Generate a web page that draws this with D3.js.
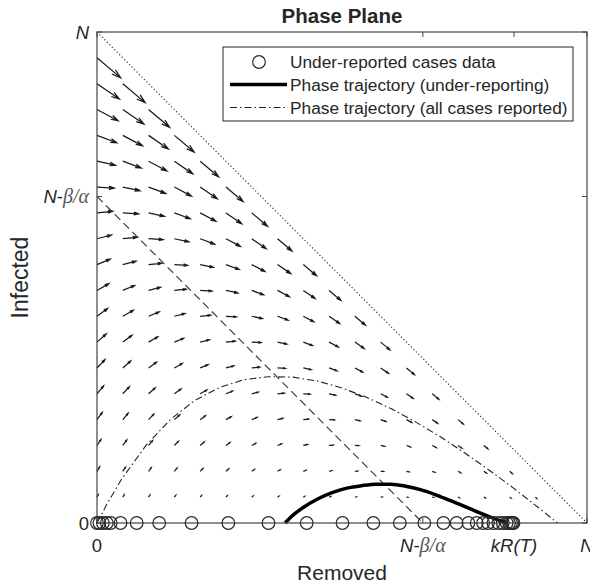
<!DOCTYPE html>
<html>
<head>
<meta charset="utf-8">
<script src="https://cdn.jsdelivr.net/npm/d3@7"></script>
<style>
body { margin: 0; background: #fff; }
text { font-family: "Liberation Sans", Arial, sans-serif; fill: #262626; }
</style>
</head>
<body>
<svg id="chart" width="590" height="585"></svg>
<script>
// model constants, N normalised to 1
var N = 1;
var betaOverAlpha = 0.335;
var kRT = 0.851;

// quiver grid: 20 points on each axis, 0..N
var gridSteps = 19;

// under-reported cases data (removed values, all on I = 0)
var casesR = [0, 0.005, 0.012, 0.020, 0.028, 0.048, 0.081, 0.127, 0.193, 0.268,
    0.350, 0.428, 0.501, 0.564, 0.618, 0.668, 0.707, 0.734, 0.758, 0.775,
    0.788, 0.798, 0.809, 0.819, 0.828, 0.836, 0.841, 0.845, 0.848, 0.850];

// phase trajectory (under-reporting)
var underR = [0.384, 0.40, 0.42, 0.45, 0.48, 0.51, 0.54, 0.57, 0.60, 0.63,
    0.66, 0.69, 0.72, 0.75, 0.78, 0.80, 0.82, 0.838];
var underI = [0, 0.016, 0.031, 0.049, 0.062, 0.071, 0.076, 0.079, 0.079, 0.075,
    0.068, 0.058, 0.046, 0.034, 0.021, 0.013, 0.006, 0];

// phase trajectory (all cases reported)
var allR = [0, 0.02, 0.05, 0.10, 0.15, 0.20, 0.25, 0.30, 0.35, 0.40, 0.45,
    0.50, 0.55, 0.60, 0.65, 0.70, 0.75, 0.80, 0.85, 0.90, 0.94];
var allI = [0, 0.038, 0.089, 0.158, 0.211, 0.250, 0.276, 0.292, 0.298, 0.297, 0.289,
    0.275, 0.256, 0.233, 0.206, 0.176, 0.143, 0.108, 0.071, 0.032, 0];

var xTickVals = [0, N - betaOverAlpha, kRT, N];
var yTickVals = [0, N - betaOverAlpha, N];

var legendLabels = ["Under-reported cases data",
    "Phase trajectory (under-reporting)",
    "Phase trajectory (all cases reported)"];

var svg = d3.select("#chart");
var mLeft = 97, mRight = 587, mTop = 32, mBottom = 523;

var x = d3.scaleLinear().domain([0, N]).range([mLeft, mRight]);
var y = d3.scaleLinear().domain([0, N]).range([mBottom, mTop]);

// ---- direction field (dR/dt = beta I, dI/dt = alpha S I - beta I)
var qScale = 0.0511, headA = 0.3, headB = 0.3;
var arrows = [];
for (var i = 0; i <= gridSteps; i++) {
    for (var j = 1; j <= gridSteps; j++) {
        if (i + j >= gridSteps) continue;
        var R = i * N / gridSteps, I = j * N / gridSteps;
        var S = N - R - I;
        arrows.push({ r: R, i: I, u: I * qScale, v: I * (S / betaOverAlpha - 1) * qScale });
    }
}

function arrowPath(d) {
    var tx = d.r + d.u, ty = d.i + d.v;
    var lx = tx - headA * (d.u + headB * d.v), ly = ty - headA * (d.v - headB * d.u);
    var rx = tx - headA * (d.u - headB * d.v), ry = ty - headA * (d.v + headB * d.u);
    return "M" + x(d.r) + "," + y(d.i) + "L" + x(tx) + "," + y(ty) +
        "M" + x(lx) + "," + y(ly) + "L" + x(tx) + "," + y(ty) + "L" + x(rx) + "," + y(ry);
}

svg.append("g").selectAll("path")
    .data(arrows)
    .enter().append("path")
    .attr("d", arrowPath)
    .attr("fill", "none")
    .attr("stroke", "#1a1a1a")
    .attr("stroke-width", 1.25);

// ---- S = 0 line and S = beta/alpha line
var line = d3.line().x(function(d) { return x(d[0]); }).y(function(d) { return y(d[1]); });

svg.append("path")
    .attr("d", line([[0, N], [N, 0]]))
    .attr("fill", "none")
    .attr("stroke", "#333")
    .attr("stroke-width", 1.2)
    .attr("stroke-dasharray", "1.2,2.3");

svg.append("path")
    .attr("d", line([[0, N - betaOverAlpha], [N - betaOverAlpha, 0]]))
    .attr("fill", "none")
    .attr("stroke", "#333")
    .attr("stroke-width", 1.1)
    .attr("stroke-dasharray", "8,4.5");

// ---- trajectories
svg.append("path")
    .attr("d", line(allR.map(function(r, k) { return [r, allI[k]]; })))
    .attr("fill", "none")
    .attr("stroke", "#222")
    .attr("stroke-width", 1.1)
    .attr("stroke-dasharray", "7,3,1.5,3");

var curve = d3.line().curve(d3.curveMonotoneX)
    .x(function(d) { return x(d[0]); }).y(function(d) { return y(d[1]); });

svg.append("path")
    .attr("d", curve(underR.map(function(r, k) { return [r, underI[k]]; })))
    .attr("fill", "none")
    .attr("stroke", "#000")
    .attr("stroke-width", 3.5);

// ---- axes box
svg.append("rect")
    .attr("x", mLeft).attr("y", mTop)
    .attr("width", mRight - mLeft).attr("height", mBottom - mTop)
    .attr("fill", "none")
    .attr("stroke", "#444")
    .attr("stroke-width", 1.2);

// ---- data circles
svg.append("g").selectAll("circle")
    .data(casesR)
    .enter().append("circle")
    .attr("cx", function(d) { return x(d); })
    .attr("cy", y(0))
    .attr("r", 6.3)
    .attr("fill", "none")
    .attr("stroke", "#2a2a2a")
    .attr("stroke-width", 1.2);

// ---- ticks (inside, on all four sides)
var tl = 5;
var ticks = svg.append("g").attr("stroke", "#444").attr("stroke-width", 1);
xTickVals.forEach(function(v) {
    ticks.append("line").attr("x1", x(v)).attr("x2", x(v)).attr("y1", mBottom).attr("y2", mBottom - tl);
    ticks.append("line").attr("x1", x(v)).attr("x2", x(v)).attr("y1", mTop).attr("y2", mTop + tl);
});
yTickVals.forEach(function(v) {
    ticks.append("line").attr("y1", y(v)).attr("y2", y(v)).attr("x1", mLeft).attr("x2", mLeft + tl);
    ticks.append("line").attr("y1", y(v)).attr("y2", y(v)).attr("x1", mRight).attr("x2", mRight - tl);
});

// tick labels: "N", "N-β/α", "kR(T)", "0"
function tickLabel(sel, kind) {
    sel.attr("font-size", 18.5);
    if (kind === "0") { sel.text("0"); return; }
    if (kind === "N") { sel.append("tspan").attr("font-style", "italic").text("N"); return; }
    if (kind === "kRT") { sel.append("tspan").attr("font-style", "italic").text("kR(T)"); return; }
    sel.append("tspan").attr("font-style", "italic").text("N");
    sel.append("tspan").text("-");
    sel.append("tspan").attr("font-family", "'Liberation Serif', serif").attr("font-style", "italic")
        .attr("font-size", 20).style("fill", "#555").text("β/α");
}

var xKinds = ["0", "NBA", "kRT", "N"];
xTickVals.forEach(function(v, k) {
    svg.append("text").attr("x", x(v)).attr("y", 552).attr("text-anchor", "middle")
        .call(tickLabel, xKinds[k]);
});
var yKinds = ["0", "NBA", "N"];
yTickVals.forEach(function(v, k) {
    svg.append("text").attr("x", 89).attr("y", y(v) + 6.5).attr("text-anchor", "end")
        .call(tickLabel, yKinds[k]);
});

// ---- title and axis labels
svg.append("text")
    .attr("x", (mLeft + mRight) / 2).attr("y", 23)
    .attr("text-anchor", "middle")
    .attr("font-size", 20.5).attr("font-weight", "bold")
    .text("Phase Plane");

svg.append("text")
    .attr("x", (mLeft + mRight) / 2).attr("y", 580)
    .attr("text-anchor", "middle")
    .attr("font-size", 21)
    .text("Removed");

svg.append("text")
    .attr("transform", "translate(28," + (mTop + mBottom) / 2 + ") rotate(-90)")
    .attr("text-anchor", "middle")
    .attr("font-size", 23)
    .text("Infected");

// ---- legend
var lg = svg.append("g");
lg.append("rect")
    .attr("x", 223).attr("y", 47).attr("width", 350).attr("height", 74)
    .attr("fill", "#fff").attr("stroke", "#262626").attr("stroke-width", 1);

var rowY = [62, 84.5, 107.5];
lg.append("circle").attr("cx", 259).attr("cy", rowY[0]).attr("r", 6.3)
    .attr("fill", "none").attr("stroke", "#2a2a2a").attr("stroke-width", 1.2);
lg.append("line").attr("x1", 230).attr("x2", 287).attr("y1", rowY[1]).attr("y2", rowY[1])
    .attr("stroke", "#000").attr("stroke-width", 3.5);
lg.append("line").attr("x1", 230).attr("x2", 287).attr("y1", rowY[2]).attr("y2", rowY[2])
    .attr("stroke", "#222").attr("stroke-width", 1.1).attr("stroke-dasharray", "7,3,1.5,3");

legendLabels.forEach(function(t, k) {
    lg.append("text").attr("x", 290).attr("y", rowY[k] + 6)
        .attr("font-size", 17.3).text(t);
});
</script>
</body>
</html>
